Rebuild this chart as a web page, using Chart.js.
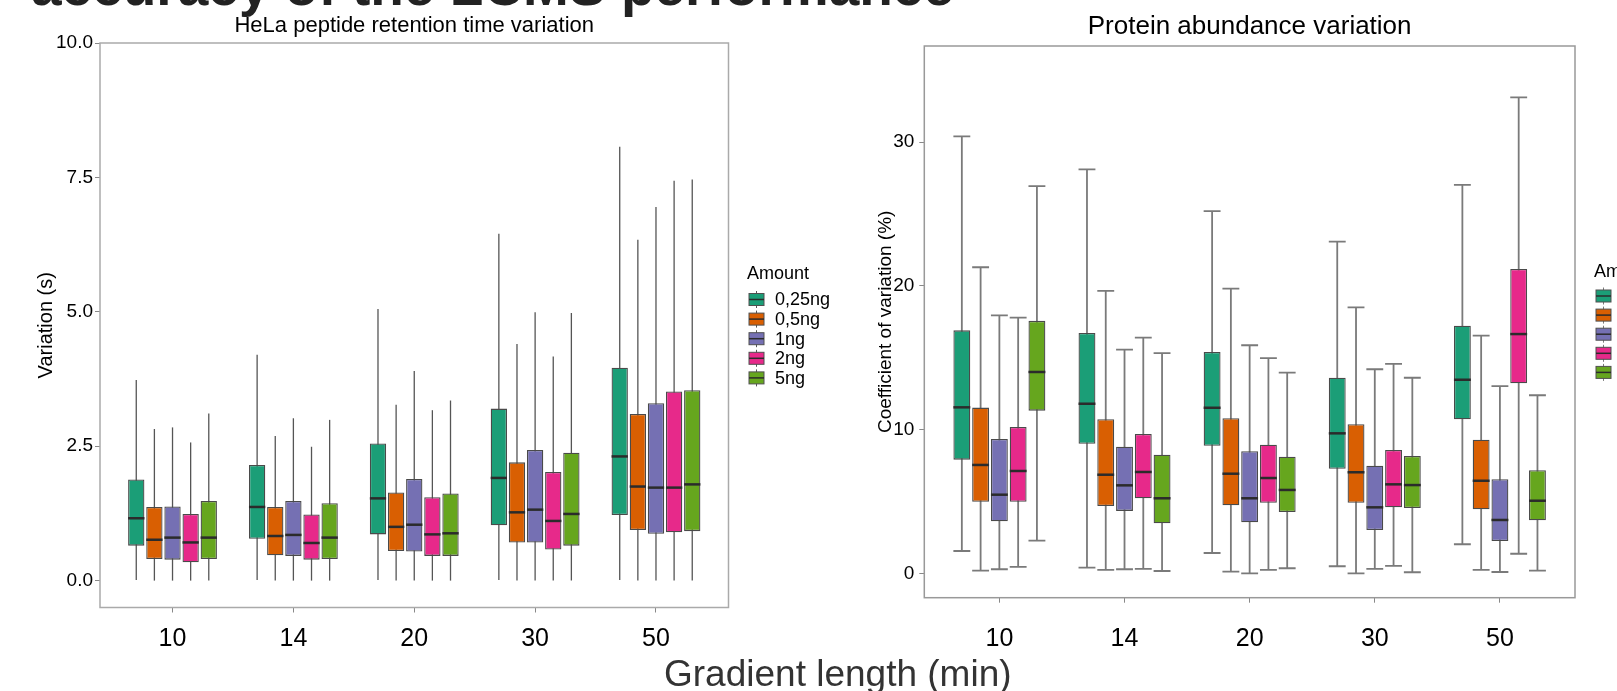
<!DOCTYPE html>
<html>
<head>
<meta charset="utf-8">
<script src="https://cdn.jsdelivr.net/npm/chart.js@4.4.1/dist/chart.umd.min.js"></script>
<style>
  html, body { margin: 0; padding: 0; background: #fff; overflow: hidden; }
  body { width: 1617px; height: 691px; position: relative; font-family: "Liberation Sans", Arial, sans-serif; }
  #heading { position: absolute; left: 31px; top: -41px; font-size: 55px; line-height: 55px; font-weight: bold; color: #222; white-space: nowrap; }
  #xlabel { position: absolute; left: 664px; top: 655px; font-size: 37px; line-height: 37px; color: #333; white-space: nowrap; }
  canvas { position: absolute; top: 0; }
  #rtChart { left: 0; }
  #cvChart { left: 830px; }
</style>
</head>
<body>
<div id="heading">accuracy of the LCMS performance</div>
<canvas id="rtChart" width="830" height="691"></canvas>
<canvas id="cvChart" width="787" height="691"></canvas>
<div id="xlabel">Gradient length (min)</div>
<script>
// Categories
const gradients = ['10', '14', '20', '30', '50'];
const amounts = ['0,25ng', '0,5ng', '1ng', '2ng', '5ng'];
const amountColors = ['#1B9E77', '#D95F02', '#7570B3', '#E7298A', '#66A61E'];

// HeLa peptide retention time variation (s), rows = amount, cols = gradient
const rtMin = [
    [0.01, 0.01, 0.01, 0.01, 0.01],
    [0.00, 0.00, 0.00, 0.00, 0.00],
    [0.00, 0.00, 0.00, 0.00, 0.00],
    [0.00, 0.00, 0.00, 0.00, 0.00],
    [0.00, 0.00, 0.00, 0.00, 0.00]
];
const rtQ1 = [
    [0.65, 0.78, 0.86, 1.03, 1.22],
    [0.40, 0.47, 0.55, 0.71, 0.94],
    [0.39, 0.46, 0.54, 0.71, 0.87],
    [0.34, 0.39, 0.46, 0.58, 0.90],
    [0.40, 0.40, 0.46, 0.65, 0.92]
];
const rtMedian = [
    [1.16, 1.37, 1.53, 1.91, 2.31],
    [0.76, 0.83, 1.00, 1.27, 1.75],
    [0.80, 0.85, 1.04, 1.32, 1.73],
    [0.71, 0.70, 0.86, 1.11, 1.73],
    [0.80, 0.80, 0.88, 1.24, 1.79]
];
const rtQ3 = [
    [1.88, 2.15, 2.55, 3.20, 3.96],
    [1.37, 1.37, 1.64, 2.20, 3.10],
    [1.38, 1.48, 1.89, 2.43, 3.30],
    [1.24, 1.23, 1.55, 2.02, 3.52],
    [1.48, 1.44, 1.62, 2.38, 3.54]
];
const rtMax = [
    [3.73, 4.20, 5.05, 6.45, 8.07],
    [2.82, 2.69, 3.27, 4.40, 6.34],
    [2.85, 3.02, 3.90, 4.99, 6.95],
    [2.57, 2.49, 3.17, 4.17, 7.44],
    [3.11, 2.99, 3.35, 4.98, 7.46]
];
const rtTicks = [0, 2.5, 5, 7.5, 10];

// Protein abundance coefficient of variation (%)
const cvMin = [
    [1.55, 0.39, 1.41, 0.49, 2.02],
    [0.18, 0.23, 0.11, 0.00, 0.23],
    [0.28, 0.28, 0.00, 0.30, 0.09],
    [0.44, 0.30, 0.23, 0.51, 1.36],
    [2.27, 0.16, 0.35, 0.07, 0.18]
];
const cvQ1 = [
    [7.91, 9.02, 8.88, 7.28, 10.72],
    [4.98, 4.68, 4.73, 4.91, 4.45],
    [3.62, 4.34, 3.55, 3.01, 2.25],
    [4.98, 5.22, 4.91, 4.59, 13.22],
    [11.32, 3.48, 4.27, 4.54, 3.69]
];
const cvMedian = [
    [11.55, 11.80, 11.52, 9.74, 13.47],
    [7.54, 6.86, 6.93, 7.03, 6.44],
    [5.47, 6.12, 5.22, 4.59, 3.71],
    [7.12, 7.05, 6.63, 6.19, 16.65],
    [14.01, 5.22, 5.80, 6.14, 5.05]
];
const cvQ3 = [
    [16.91, 16.72, 15.40, 13.61, 17.23],
    [11.53, 10.72, 10.79, 10.37, 9.30],
    [9.35, 8.81, 8.49, 7.49, 6.54],
    [10.18, 9.69, 8.95, 8.58, 21.18],
    [17.57, 8.25, 8.11, 8.16, 7.17]
];
const cvMax = [
    [30.41, 28.11, 25.21, 23.08, 27.04],
    [21.30, 19.65, 19.81, 18.51, 16.54],
    [17.95, 15.56, 15.87, 14.20, 13.03],
    [17.79, 16.40, 14.98, 14.57, 33.12],
    [26.95, 15.33, 13.96, 13.61, 12.39]
];
const cvTicks = [0, 10, 20, 30];

const FONT = '"Liberation Sans", Arial, sans-serif';
Chart.defaults.font.family = FONT;
Chart.defaults.color = '#000';

// Box plot: floating bars are the boxes, whiskers and medians drawn from the scales
const boxPlotPlugin = {
    id: 'boxPlot',
    beforeDatasetsDraw(chart, args, o) {
        const ctx = chart.ctx;
        const yScale = chart.scales.y;
        ctx.save();
        ctx.strokeStyle = o.whiskerColor;
        ctx.lineWidth = o.whiskerWidth;
        chart.data.datasets.forEach((ds, i) => {
            chart.getDatasetMeta(i).data.forEach((bar, j) => {
                const { x, width } = bar.getProps(['x', 'width'], true);
                const yHi = yScale.getPixelForValue(ds.high[j]);
                const yLo = yScale.getPixelForValue(ds.low[j]);
                ctx.beginPath();
                ctx.moveTo(x, yHi);
                ctx.lineTo(x, yLo);
                if (o.caps) {
                    const half = width / 2;
                    ctx.moveTo(x - half, yHi);
                    ctx.lineTo(x + half, yHi);
                    ctx.moveTo(x - half, yLo);
                    ctx.lineTo(x + half, yLo);
                }
                ctx.stroke();
            });
        });
        ctx.restore();
    },
    afterDatasetsDraw(chart, args, o) {
        const ctx = chart.ctx;
        const yScale = chart.scales.y;
        ctx.save();
        ctx.strokeStyle = '#2b2b2b';
        ctx.lineWidth = 2.5;
        chart.data.datasets.forEach((ds, i) => {
            chart.getDatasetMeta(i).data.forEach((bar, j) => {
                const { x, width } = bar.getProps(['x', 'width'], true);
                const ym = yScale.getPixelForValue(ds.median[j]);
                ctx.beginPath();
                ctx.moveTo(x - width / 2, ym);
                ctx.lineTo(x + width / 2, ym);
                ctx.stroke();
            });
        });
        ctx.restore();
    },
    afterDraw(chart, args, o) {
        const ctx = chart.ctx;
        const area = chart.chartArea;
        ctx.save();
        // panel border
        ctx.strokeStyle = o.borderColor;
        ctx.lineWidth = 1.5;
        ctx.strokeRect(area.left, area.top, area.right - area.left, area.bottom - area.top);

        // chart title
        ctx.fillStyle = '#000';
        ctx.font = o.titleSize + 'px ' + FONT;
        ctx.textAlign = 'center';
        ctx.textBaseline = 'alphabetic';
        ctx.fillText(o.title, (area.left + area.right) / 2, o.titleY);

        // legend
        const lg = o.legend;
        ctx.textAlign = 'left';
        ctx.font = '18px ' + FONT;
        ctx.fillText('Amount', lg.x, lg.titleY);
        chart.data.datasets.forEach((ds, i) => {
            const cy = lg.firstY + i * lg.step;
            const kx = lg.x + 2;
            ctx.strokeStyle = o.whiskerColor;
            ctx.lineWidth = 1;
            ctx.beginPath();
            ctx.moveTo(kx + 7.5, cy - 8.5);
            ctx.lineTo(kx + 7.5, cy + 8.5);
            ctx.stroke();
            ctx.fillStyle = ds.backgroundColor;
            ctx.fillRect(kx, cy - 6, 15, 12);
            ctx.strokeStyle = '#505050';
            ctx.strokeRect(kx, cy - 6, 15, 12);
            ctx.strokeStyle = '#2b2b2b';
            ctx.lineWidth = 1.5;
            ctx.beginPath();
            ctx.moveTo(kx, cy);
            ctx.lineTo(kx + 15, cy);
            ctx.stroke();
            ctx.fillStyle = '#000';
            ctx.textBaseline = 'middle';
            ctx.fillText(ds.label, kx + 26, cy + 1);
            ctx.textBaseline = 'alphabetic';
        });
        ctx.restore();
    }
};

function makeDatasets(q1, q3, med, lo, hi) {
    return amounts.map((name, i) => ({
        label: name,
        data: gradients.map((g, j) => ({ x: j + 1, y: [q1[i][j], q3[i][j]] })),
        backgroundColor: amountColors[i],
        borderColor: '#4a4a4a',
        borderWidth: 1.3,
        borderSkipped: false,
        categoryPercentage: 0.75,
        barPercentage: 0.9,
        median: med[i],
        low: lo[i],
        high: hi[i]
    }));
}

function makeChart(canvasId, cfg) {
    return new Chart(document.getElementById(canvasId), {
        type: 'bar',
        data: { datasets: makeDatasets(cfg.q1, cfg.q3, cfg.med, cfg.lo, cfg.hi) },
        options: {
            responsive: false,
            animation: false,
            devicePixelRatio: 1,
            layout: { padding: cfg.padding },
            plugins: {
                legend: { display: false },
                tooltip: { enabled: false },
                boxPlot: cfg.box
            },
            scales: {
                x: {
                    type: 'linear',
                    min: 0.4,
                    max: 5.6,
                    offset: false,
                    grid: { drawOnChartArea: false, drawTicks: true, tickLength: 5, tickColor: '#888', offset: false },
                    border: { display: false },
                    afterBuildTicks: scale => { scale.ticks = gradients.map((g, j) => ({ value: j + 1 })); },
                    afterFit: scale => { scale.height = 60; },
                    ticks: {
                        autoSkip: false,
                        maxRotation: 0,
                        padding: cfg.xTickPad,
                        font: { size: 25 },
                        color: '#000',
                        callback: v => gradients[v - 1]
                    }
                },
                y: {
                    type: 'linear',
                    min: cfg.yMin,
                    max: cfg.yMax,
                    grid: { drawOnChartArea: false, drawTicks: true, tickLength: 5, tickColor: '#888' },
                    border: { display: false },
                    afterBuildTicks: scale => { scale.ticks = cfg.yTicks.map(v => ({ value: v })); },
                    afterFit: scale => { scale.width = cfg.yWidth; },
                    ticks: {
                        padding: cfg.yTickPad,
                        font: { size: 19 },
                        color: '#000',
                        callback: cfg.yFormat
                    },
                    title: {
                        display: true,
                        text: cfg.yTitle,
                        font: { size: cfg.yTitleSize },
                        color: '#000',
                        padding: { top: cfg.yTitlePad, bottom: 0 }
                    }
                }
            }
        },
        plugins: [boxPlotPlugin]
    });
}

makeChart('rtChart', {
    q1: rtQ1, q3: rtQ3, med: rtMedian, lo: rtMin, hi: rtMax,
    padding: { top: 43, right: 101.5, bottom: 23.5, left: 0 },
    yMin: -0.5, yMax: 10, yTicks: rtTicks, yWidth: 100,
    yFormat: v => v.toFixed(1),
    yTitle: 'Variation (s)', yTitleSize: 20, yTitlePad: 34,
    xTickPad: 12, yTickPad: 2,
    box: {
        whiskerColor: '#555', whiskerWidth: 1.3, caps: false, borderColor: '#aaa',
        title: 'HeLa peptide retention time variation', titleSize: 22, titleY: 32,
        legend: { x: 747, titleY: 279, firstY: 299.5, step: 19.6 }
    }
});

makeChart('cvChart', {
    q1: cvQ1, q3: cvQ3, med: cvMedian, lo: cvMin, hi: cvMax,
    padding: { top: 46, right: 42, bottom: 33.3, left: 0 },
    yMin: -1.7, yMax: 36.7, yTicks: cvTicks, yWidth: 94.3,
    yFormat: v => String(v),
    yTitle: 'Coefficient of variation (%)', yTitleSize: 19, yTitlePad: 44,
    xTickPad: 21, yTickPad: 5,
    box: {
        whiskerColor: '#7a7a7a', whiskerWidth: 1.8, caps: true, borderColor: '#999',
        title: 'Protein abundance variation', titleSize: 26, titleY: 34,
        legend: { x: 764, titleY: 277, firstY: 296, step: 19.1 }
    }
});
</script>
</body>
</html>
